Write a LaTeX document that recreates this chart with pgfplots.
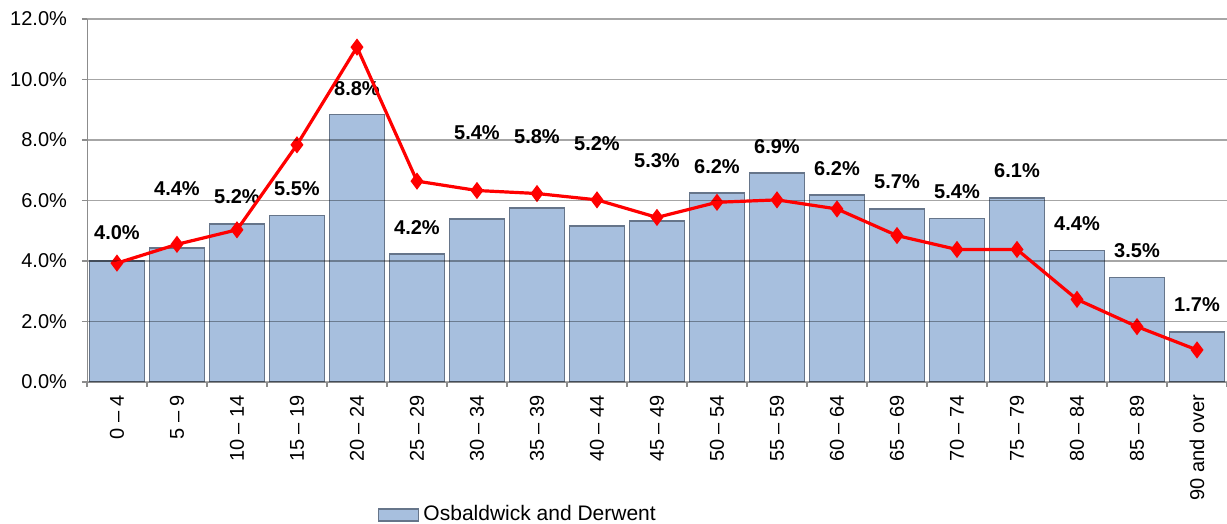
\documentclass[border=0pt]{standalone}
\usepackage{fontspec}
\setmainfont{Liberation Sans}
\usepackage{pgfplots}
\usepackage{pgfplotstable}
\pgfplotsset{compat=1.18}
\definecolor{barfill}{HTML}{A7BFDE}
\definecolor{baredge}{HTML}{66758A}
\definecolor{axisgray}{HTML}{8C8C8C}

% x: category index, bar: area share, line: comparison share, ly: label height
\pgfplotstableread{
x bar line ly
0 4.00 3.93 4.93
1 4.42 4.55 6.38
2 5.22 5.03 6.12
3 5.51 7.84 6.38
4 8.84 11.07 9.69
5 4.23 6.64 5.09
6 5.39 6.33 8.23
7 5.76 6.23 8.10
8 5.16 6.02 7.87
9 5.33 5.44 7.31
10 6.24 5.94 7.11
11 6.91 6.02 7.77
12 6.19 5.72 7.07
13 5.71 4.84 6.61
14 5.40 4.38 6.28
15 6.09 4.38 6.98
16 4.35 2.73 5.22
17 3.46 1.83 4.33
18 1.66 1.06 2.55
}\agedata

\begin{document}
\begin{tikzpicture}
\pgfplotsset{set layers}
\begin{axis}[
    scale only axis,
    width=570pt, height=181.5pt,
    xmin=-0.5, xmax=18.5,
    ymin=0, ymax=12,
    axis on top, clip=false,
    axis x line=bottom, axis y line=left,
    axis line style={axisgray, -},
    tick style={axisgray, line width=0.6pt},
    tick align=outside,
    major tick length=2.5pt,
    xtick={-0.5,0.5,...,18.5},
    xticklabels={},
    extra x ticks={0,...,18},
    extra x tick labels={0 -- 4, 5 -- 9, 10 -- 14, 15 -- 19, 20 -- 24, 25 -- 29, 30 -- 34, 35 -- 39, 40 -- 44, 45 -- 49, 50 -- 54, 55 -- 59, 60 -- 64, 65 -- 69, 70 -- 74, 75 -- 79, 80 -- 84, 85 -- 89, 90 and over},
    extra x tick style={major tick length=0pt, xticklabel style={yshift=-3pt, rotate=90, anchor=east}},
    ytick={0,2,...,12},
    yticklabel={\pgfmathprintnumber[fixed,fixed zerofill,precision=1]{\tick}\%},
    yticklabel style={xshift=-4pt},
    /pgf/number format/assume math mode=true,
    ymajorgrids,
    major grid style={black, opacity=0.35, line width=0.7pt},
    legend style={at={(0.255,-0.366)}, anchor=west, draw=none, fill=none, inner sep=0pt,
        font=\fontsize{10.5}{12}\selectfont},
    legend cell align=left,
]
\coordinate (bbsw) at (rel axis cs:-0.0763,-0.391);
\coordinate (bbne) at (rel axis cs:1,1.0523);

\addplot[ybar, bar width=0.92, fill=barfill, draw=baredge, line width=0.8pt,
    legend image code/.code={\draw[fill=barfill, draw=baredge, line width=0.7pt] (0pt,-3pt) rectangle (20pt,3pt);}]
    table[x=x, y=bar] {\agedata};
\addlegendentry{Osbaldwick and Derwent}

\addplot[forget plot, on layer=axis foreground, red, line width=1.6pt,
    mark=diamond*, mark size=3pt, mark options={solid, fill=red}]
    table[x=x, y=line] {\agedata};

\addplot[forget plot, on layer=axis foreground, draw=none, mark=none,
    point meta=explicit,
    nodes near coords={\pgfmathprintnumber[fixed,fixed zerofill,precision=1]{\pgfplotspointmeta}\%},
    every node near coord/.append style={anchor=center, font=\bfseries, inner sep=0pt}]
    table[x=x, y=ly, meta=bar] {\agedata};
\end{axis}
\pgfresetboundingbox
\path[use as bounding box] (bbsw) rectangle (bbne);
\end{tikzpicture}
\end{document}
